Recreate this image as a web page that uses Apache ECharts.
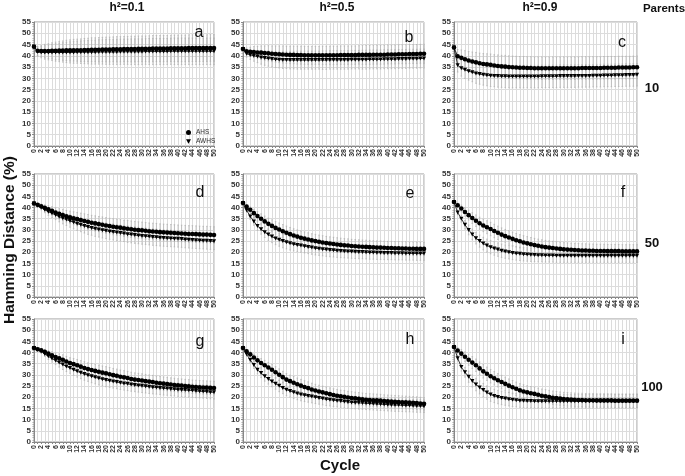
<!DOCTYPE html>
<html><head><meta charset="utf-8">
<script src="https://cdn.jsdelivr.net/npm/echarts@6/dist/echarts.min.js"></script>
<style>html,body{margin:0;padding:0;background:#fff}#c{width:685px;height:476px}</style>
</head><body><div id="c"></div>
<script>
const cycles = [0,1,2,3,4,5,6,7,8,9,10,11,12,13,14,15,16,17,18,19,20,21,22,23,24,25,26,27,28,29,30,31,32,33,34,35,36,37,38,39,40,41,42,43,44,45,46,47,48,49,50];
const yTicks = [0,5,10,15,20,25,30,35,40,45,50,55];
const colTitles = ['h²=0.1','h²=0.5','h²=0.9'];
const rowTitles = ['10','50','100'];
const panelLetters = ['a','b','c','d','e','f','g','h','i'];

// Panel a: Parents 10, h2=0.1
const ahsA = [44,42.2,42.1,42.1,42.1,42.2,42.2,42.3,42.3,42.4,42.4,42.5,42.5,42.5,42.6,42.6,42.7,42.7,42.7,42.8,42.8,42.8,42.9,42.9,42.9,43,43,43,43,43.1,43.1,43.1,43.1,43.2,43.2,43.2,43.2,43.2,43.3,43.3,43.3,43.3,43.3,43.4,43.4,43.4,43.4,43.4,43.4,43.5,43.5];
const awhsA = [44,41.8,41.6,41.5,41.5,41.5,41.5,41.5,41.5,41.5,41.5,41.5,41.6,41.6,41.6,41.6,41.6,41.6,41.7,41.7,41.7,41.7,41.7,41.7,41.8,41.8,41.8,41.8,41.8,41.8,41.8,41.9,41.9,41.9,41.9,41.9,41.9,41.9,42,42,42,42,42,42,42,42,42,42,42,42,42];
const sdA = [0,2,2.5,3,3.3,3.6,3.9,4.1,4.3,4.5,4.7,4.8,4.9,5,5.1,5.2,5.3,5.3,5.4,5.4,5.5,5.5,5.5,5.6,5.6,5.6,5.6,5.7,5.7,5.7,5.7,5.7,5.8,5.8,5.8,5.8,5.8,5.8,5.8,5.9,5.9,5.9,5.9,5.9,5.9,5.9,5.9,5.9,5.9,5.9,5.9];
// Panel b: Parents 10, h2=0.5
const ahsB = [43,42,41.8,41.7,41.5,41.4,41.2,41.1,40.9,40.8,40.7,40.6,40.5,40.4,40.4,40.3,40.3,40.2,40.2,40.2,40.2,40.2,40.2,40.2,40.2,40.2,40.2,40.3,40.3,40.3,40.3,40.3,40.4,40.4,40.4,40.4,40.5,40.5,40.5,40.5,40.6,40.6,40.6,40.7,40.7,40.7,40.8,40.8,40.8,40.9,40.9];
const awhsB = [43,40.9,40.4,40,39.7,39.3,39,38.8,38.6,38.4,38.3,38.2,38.2,38.1,38.1,38.1,38.1,38.1,38.1,38.1,38.1,38.1,38.1,38.1,38.2,38.2,38.2,38.2,38.2,38.2,38.3,38.3,38.3,38.3,38.3,38.4,38.4,38.4,38.4,38.5,38.5,38.5,38.5,38.6,38.6,38.6,38.7,38.7,38.7,38.8,38.8];
const sdB = [0,1.5,2,2.4,2.7,3,3.2,3.4,3.5,3.6,3.7,3.8,3.8,3.9,3.9,4,4,4,4,4,4,4,4.1,4.1,4.1,4.1,4.1,4.1,4.1,4.1,4.1,4.1,4.1,4.2,4.2,4.2,4.2,4.2,4.2,4.2,4.2,4.2,4.2,4.2,4.2,4.2,4.2,4.2,4.2,4.2,4.2];
// Panel c: Parents 10, h2=0.9
const ahsC = [43.7,39.8,39.1,38.5,37.9,37.5,37.1,36.7,36.4,36.2,36,35.7,35.5,35.3,35.2,35,34.9,34.8,34.7,34.7,34.6,34.6,34.5,34.5,34.5,34.5,34.5,34.5,34.5,34.5,34.5,34.5,34.5,34.5,34.5,34.6,34.6,34.6,34.6,34.6,34.6,34.7,34.7,34.7,34.7,34.8,34.8,34.8,34.8,34.9,34.9];
const awhsC = [43.7,35.8,34.5,33.8,33.2,32.7,32.2,31.9,31.6,31.4,31.2,31.1,31,30.9,30.9,30.8,30.8,30.8,30.8,30.8,30.8,30.8,30.8,30.8,30.9,30.9,30.9,30.9,30.9,31,31,31,31,31,31.1,31.1,31.1,31.1,31.2,31.2,31.2,31.3,31.3,31.3,31.4,31.4,31.4,31.5,31.5,31.5,31.6];
const sdC = [0,3,3.5,3.8,4,4.2,4.4,4.5,4.6,4.7,4.8,4.8,4.9,4.9,5,5,5,5,5,5,5,5,5,5,5,5,5,5,5,5,5,5,5,5,5,5,5,5,5,5,5,5,5,5,5,5,5,5,5,5,5];
// Panel d: Parents 50, h2=0.1
const ahsD = [41.8,41.2,40.6,39.9,39.2,38.5,37.8,37.2,36.7,36.1,35.6,35.2,34.8,34.4,34,33.6,33.2,32.9,32.6,32.3,32,31.7,31.4,31.2,31,30.7,30.5,30.3,30.1,29.9,29.8,29.6,29.4,29.3,29.2,29,28.9,28.8,28.7,28.6,28.5,28.4,28.3,28.2,28.2,28.1,28,27.9,27.9,27.8,27.7];
const awhsD = [41.8,40.9,40,39,38.1,37.4,36.7,35.9,35.2,34.6,34,33.4,32.8,32.3,31.8,31.3,30.9,30.5,30.2,29.9,29.6,29.3,29.1,28.8,28.6,28.4,28.1,27.9,27.7,27.5,27.3,27.2,27,26.8,26.7,26.5,26.4,26.3,26.2,26.1,26,25.9,25.7,25.6,25.5,25.4,25.3,25.2,25.1,25,24.9];
const sdD = [0,0.6,1,1.3,1.6,1.9,2.1,2.3,2.5,2.6,2.8,2.9,3,3.1,3.2,3.3,3.3,3.4,3.4,3.5,3.5,3.5,3.6,3.6,3.6,3.6,3.7,3.7,3.7,3.7,3.7,3.7,3.7,3.7,3.7,3.7,3.7,3.7,3.7,3.7,3.7,3.7,3.7,3.7,3.7,3.7,3.7,3.7,3.7,3.7,3.7];
// Panel e: Parents 50, h2=0.5
const ahsE = [42,40.4,39,37.5,36.2,35,33.8,32.7,31.8,30.9,30.2,29.4,28.7,28.1,27.5,27,26.5,26.1,25.7,25.3,25,24.7,24.4,24.1,23.9,23.7,23.5,23.3,23.1,23,22.8,22.7,22.6,22.5,22.4,22.3,22.2,22.1,22.1,22,21.9,21.9,21.8,21.8,21.7,21.7,21.6,21.6,21.5,21.5,21.5];
const awhsE = [42,38.8,36,33.8,31.8,30.3,29,27.9,27,26.2,25.6,25,24.5,24,23.6,23.3,23,22.7,22.4,22.1,21.8,21.6,21.4,21.2,21,20.9,20.7,20.6,20.5,20.4,20.3,20.2,20.1,20.1,20,19.9,19.9,19.8,19.8,19.7,19.7,19.7,19.6,19.6,19.6,19.5,19.5,19.5,19.4,19.4,19.4];
const sdE = [0,0.8,1.3,1.7,2,2.2,2.4,2.6,2.7,2.8,2.9,3,3,3,3,3,3,3,3,3,3,3,3,3,3,3,3,3,3,3,3,3,3,3,3,3,3,3,3,3,3,3,3,3,3,3,3,3,3,3,3];
// Panel f: Parents 50, h2=0.9
const ahsF = [42.5,41,39.6,38,36.6,35.3,34.1,33,32,31.2,30.4,29.5,28.7,27.9,27.2,26.6,26,25.4,24.9,24.4,24,23.6,23.2,22.9,22.6,22.3,22.1,21.9,21.7,21.5,21.3,21.2,21.1,21,20.9,20.8,20.8,20.7,20.7,20.6,20.6,20.6,20.5,20.5,20.5,20.5,20.4,20.4,20.4,20.4,20.4];
const awhsF = [42.5,37.8,35,32.3,30,28,26.3,25,23.9,23,22.3,21.7,21.2,20.7,20.3,20,19.7,19.5,19.3,19.1,19,18.9,18.8,18.7,18.7,18.6,18.6,18.6,18.5,18.5,18.5,18.5,18.5,18.5,18.5,18.5,18.5,18.5,18.5,18.5,18.5,18.5,18.5,18.5,18.5,18.5,18.5,18.5,18.5,18.5,18.5];
const sdF = [0,1,1.5,1.9,2.2,2.4,2.6,2.7,2.8,2.9,3,3,3,3,3,3,3,3,3,3,3,3,3,3,3,3,3,3,3,3,3,3,3,3,3,3,3,3,3,3,3,3,3,3,3,3,3,3,3,3,3];
// Panel g: Parents 100, h2=0.1
const ahsG = [42,41.5,41,40.3,39.5,38.8,38,37.4,36.8,36,35.3,34.8,34.3,33.7,33.1,32.6,32.2,31.8,31.4,31,30.7,30.3,29.9,29.6,29.2,28.9,28.6,28.2,27.9,27.7,27.5,27.2,27,26.8,26.5,26.3,26.1,25.9,25.7,25.5,25.3,25.2,25,24.9,24.7,24.6,24.5,24.4,24.3,24.2,24.1];
const awhsG = [42,41.3,40.5,39.4,38.3,37.3,36.4,35.5,34.6,33.8,33.1,32.3,31.6,31,30.4,29.9,29.4,28.9,28.5,28.1,27.7,27.4,27.1,26.8,26.5,26.2,26,25.7,25.5,25.3,25.1,24.9,24.7,24.5,24.4,24.2,24,23.9,23.7,23.6,23.4,23.3,23.2,23.1,23,22.8,22.7,22.6,22.5,22.3,22.2];
const sdG = [0,0.5,0.8,1.1,1.4,1.6,1.8,2,2.2,2.3,2.4,2.5,2.6,2.7,2.8,2.8,2.9,2.9,3,3,3,3,3,3,3,3,3,3,3,3,3,3,3,3,3,3,3,3,3,3,3,3,3,3,3,3,3,3,3,3,3];
// Panel h: Parents 100, h2=0.5
const ahsH = [42,40.6,39.2,37.8,36.5,35.3,34.3,33.3,32.3,31.2,30.1,29,27.9,27.2,26.5,25.8,25.2,24.6,24.1,23.5,23,22.6,22.2,21.8,21.4,21,20.7,20.4,20.2,19.9,19.7,19.5,19.3,19.1,18.9,18.8,18.7,18.6,18.5,18.3,18.2,18.1,18,17.9,17.8,17.7,17.6,17.5,17.4,17.2,17.1];
const awhsH = [42,39.2,36.7,34.4,32.3,30.8,29.4,28.2,27.1,26.1,25.1,24.2,23.4,22.8,22.2,21.7,21.2,20.9,20.6,20.3,20,19.7,19.4,19.1,18.9,18.7,18.5,18.3,18.1,17.9,17.7,17.6,17.5,17.4,17.3,17.2,17.1,17,16.9,16.8,16.7,16.6,16.5,16.5,16.4,16.3,16.3,16.2,16.1,16.1,16];
const sdH = [0,0.8,1.2,1.5,1.8,2,2.2,2.3,2.4,2.5,2.6,2.6,2.7,2.7,2.8,2.8,2.8,2.8,2.8,2.8,2.8,2.8,2.8,2.8,2.8,2.8,2.8,2.8,2.8,2.8,2.8,2.8,2.8,2.8,2.8,2.8,2.8,2.8,2.8,2.8,2.8,2.8,2.8,2.8,2.8,2.8,2.8,2.8,2.8,2.8,2.8];
// Panel i: Parents 100, h2=0.9
const ahsI = [42.5,40.9,39.5,38.1,36.8,35.5,34.3,32.9,31.6,30.5,29.4,28.5,27.6,26.8,26,25.2,24.5,23.8,23.1,22.6,22.2,21.8,21.5,21.1,20.7,20.4,20.1,19.8,19.6,19.4,19.2,19.1,19,18.9,18.8,18.8,18.7,18.7,18.7,18.6,18.6,18.6,18.6,18.6,18.5,18.5,18.5,18.5,18.5,18.5,18.5];
const awhsI = [42.5,37.5,33.5,31.2,29.2,27.3,25.7,24.4,23.2,22.1,21.2,20.6,20.1,19.7,19.4,19.1,18.9,18.7,18.5,18.4,18.3,18.3,18.2,18.2,18.2,18.2,18.2,18.2,18.2,18.2,18.2,18.2,18.2,18.2,18.2,18.2,18.2,18.2,18.2,18.2,18.2,18.2,18.2,18.2,18.2,18.2,18.2,18.2,18.2,18.2,18.2];
const sdI = [0,1.2,1.8,2.2,2.5,2.7,2.8,2.9,3,3,3,3,3,3,3,3,3,3,3,3,3,3,3,3,3,3,3,3,3,3,3,3,3,3,3,3,3,3,3,3,3,3,3,3,3,3,3,3,3,3,3];

const panels = [
  [ahsA, awhsA, sdA],[ahsB, awhsB, sdB],[ahsC, awhsC, sdC],
  [ahsD, awhsD, sdD],[ahsE, awhsE, sdE],[ahsF, awhsF, sdF],
  [ahsG, awhsG, sdG],[ahsH, awhsH, sdH],[ahsI, awhsI, sdI]
];

// layout (pixels)
const colLeft = [34, 243, 454];
const colWidth = [180, 181, 183];
const rowTop = [22, 174, 319];
const rowHeight = [124, 123, 123];
const letterPos = [[199,33],[409,38],[622,43],[200,193],[410,194],[623,193],[200,342],[410,340],[623,340]];

const FONT = 'Liberation Sans, Arial, sans-serif';
const grids = [], xAxes = [], yAxes = [], series = [], graphics = [];
const triPath = 'path://M0,0 L10,0 L5,9 Z';

for (let p = 0; p < 9; p++) {
  const r = Math.floor(p / 3), c = p % 3;
  grids.push({left: colLeft[c], top: rowTop[r], width: colWidth[c], height: rowHeight[r],
    show: true, borderColor: '#9a9a9a', borderWidth: 1, backgroundColor: '#fff'});
  xAxes.push({type: 'value', gridIndex: p, min: 0, max: 50, interval: 1,
    axisLine: {show: true, onZero: false, lineStyle: {color: '#888', width: 1}},
    axisTick: {show: true, length: 2, lineStyle: {color: '#888'}},
    splitLine: {show: true, lineStyle: {color: '#dcdcdc', width: 1}},
    axisLabel: {rotate: 90, fontSize: 7, color: '#333', fontFamily: FONT, fontWeight: 'bold', margin: 3,
      formatter: v => (v % 2 === 0 ? String(v) : '')}
  });
  yAxes.push({type: 'value', gridIndex: p, min: yTicks[0], max: yTicks[yTicks.length - 1], interval: 5,
    axisLine: {show: true, lineStyle: {color: '#888', width: 1}},
    axisTick: {show: true, length: 2, lineStyle: {color: '#888'}},
    minorTick: {show: true, splitNumber: 5, length: 1.5, lineStyle: {color: '#aaa'}},
    splitLine: {show: true, lineStyle: {color: '#dcdcdc', width: 1}},
    axisLabel: {fontSize: 8, color: '#333', fontFamily: FONT, fontWeight: 'bold', margin: 3}
  });
  const [ahs, awhs, sd] = panels[p];
  series.push({
    type: 'custom', xAxisIndex: p, yAxisIndex: p, silent: true, z: 1,
    data: cycles.map((x, i) => [x, ahs[i], awhs[i], sd[i]]),
    renderItem: (params, api) => {
      const x = api.value(0), a = api.value(1), w = api.value(2), s = api.value(3);
      const ch = [];
      [a, w].forEach(v => {
        const t = api.coord([x, v + s]), b = api.coord([x, v - s]);
        ch.push({type: 'line', shape: {x1: t[0], y1: t[1], x2: b[0], y2: b[1]},
          style: {stroke: '#aaaaaa', lineWidth: 0.6}});
        ch.push({type: 'line', shape: {x1: t[0]-0.8, y1: t[1], x2: t[0]+0.8, y2: t[1]}, style: {stroke: '#aaaaaa', lineWidth: 0.6}});
        ch.push({type: 'line', shape: {x1: b[0]-0.8, y1: b[1], x2: b[0]+0.8, y2: b[1]}, style: {stroke: '#aaaaaa', lineWidth: 0.6}});
      });
      return {type: 'group', children: ch};
    }
  });
  series.push({
    name: 'AHS', type: 'line', xAxisIndex: p, yAxisIndex: p, z: 3,
    data: cycles.map((x, i) => [x, ahs[i]]),
    symbol: 'circle', symbolSize: 4.6, showSymbol: true,
    lineStyle: {color: '#000', width: 0.8}, itemStyle: {color: '#000'}, animation: false
  });
  series.push({
    name: 'AWHS', type: 'line', xAxisIndex: p, yAxisIndex: p, z: 2,
    data: cycles.map((x, i) => [x, awhs[i]]),
    symbol: triPath, symbolSize: [4.2, 4], showSymbol: true,
    lineStyle: {color: '#000', width: 0.8}, itemStyle: {color: '#000'}, animation: false
  });
  graphics.push({type: 'text', x: letterPos[p][0], y: letterPos[p][1], z: 10,
    style: {text: panelLetters[p], fontSize: 16, fontFamily: FONT, fill: '#111', align: 'center', verticalAlign: 'middle'}});
}

const colCenters = [127, 337, 540];
colTitles.forEach((t, i) => graphics.push({type: 'text', x: colCenters[i], y: 8, z: 10,
  style: {text: t, fontSize: 12, fontWeight: 'bold', fontFamily: FONT, fill: '#111', align: 'center', verticalAlign: 'middle'}}));
graphics.push({type: 'text', x: 664, y: 9, z: 10,
  style: {text: 'Parents', fontSize: 11.5, fontWeight: 'bold', fontFamily: FONT, fill: '#111', align: 'center', verticalAlign: 'middle'}});
const rowY = [88, 243, 387];
rowTitles.forEach((t, i) => graphics.push({type: 'text', x: 652, y: rowY[i], z: 10,
  style: {text: t, fontSize: 13, fontWeight: 'bold', fontFamily: FONT, fill: '#111', align: 'center', verticalAlign: 'middle'}}));
graphics.push({type: 'text', x: 10, y: 240, rotation: Math.PI / 2, z: 10,
  style: {text: 'Hamming Distance (%)', fontSize: 15.5, fontWeight: 'bold', fontFamily: FONT, fill: '#111', align: 'center', verticalAlign: 'middle'}});
graphics.push({type: 'text', x: 340, y: 466, z: 10,
  style: {text: 'Cycle', fontSize: 15, fontWeight: 'bold', fontFamily: FONT, fill: '#111', align: 'center', verticalAlign: 'middle'}});

const chart = echarts.init(document.getElementById('c'), null, {renderer: 'canvas'});
chart.setOption({
  animation: false,
  backgroundColor: '#fff',
  grid: grids, xAxis: xAxes, yAxis: yAxes, series: series, graphic: graphics,
  legend: {data: [{name: 'AHS', icon: 'circle'}, {name: 'AWHS', icon: triPath}], orient: 'vertical',
    left: 181, top: 124, itemWidth: 5, itemHeight: 5, itemGap: 2, selectedMode: false,
    textStyle: {fontSize: 6.5, fontFamily: FONT, color: '#333'}}
});
</script></body></html>
